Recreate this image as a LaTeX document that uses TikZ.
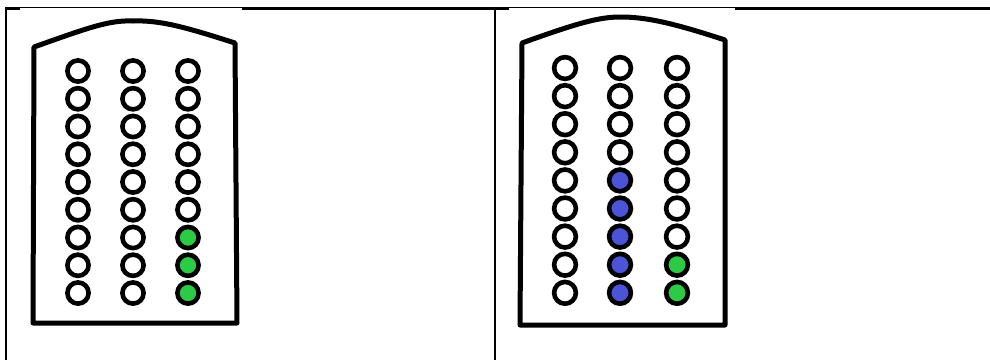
\documentclass[tikz,border=0pt]{standalone}
\definecolor{ledgreen}{HTML}{2BCB45}
\definecolor{ledblue}{HTML}{4B53D6}
\begin{document}
\begin{tikzpicture}[x=1pt,y=-1pt,
  housing/.style={line width=5pt, line join=round},
  led/.style={line width=4.6pt, draw=black, fill=white},
  ledG/.style={led, fill=ledgreen},
  ledB/.style={led, fill=ledblue},
  rulethick/.style={line width=2.2pt},
  rulethin/.style={line width=1pt}]
\useasboundingbox (0,0) rectangle (990,360);
% table rules
\draw[rulethick] (5,8.5) -- (20,8.5);
\draw[rulethin] (20,7.5) -- (242,7.5);
\draw[rulethick] (242,8.5) -- (509,8.5);
\draw[rulethin] (509,7.5) -- (735,7.5);
\draw[rulethick] (735,8.5) -- (990,8.5);
\draw[rulethick] (6,7.5) -- (6,360);
\draw[rulethick] (495,7.5) -- (495,360);
% left housing
\draw[housing] (33,323) -- (34,47) .. controls (90,27) and (110,20) .. (133,21)
  .. controls (160,20) and (185,27) .. (235,43) -- (237,323) -- cycle;
% right housing
\draw[housing] (520,325) -- (522,43) .. controls (575,24) and (598,17) .. (620,17)
  .. controls (645,17) and (670,22) .. (725,40) -- (725,325) -- cycle;
% left LEDs
\foreach \i in {0,...,8}{
  \draw[led] (78,{71+27.75*\i}) circle (10.6);
  \draw[led] (133,{71+27.75*\i}) circle (10.6);
}
\foreach \i in {0,...,5}{ \draw[led] (188,{71+27.75*\i}) circle (10.6); }
\foreach \i in {6,7,8}{ \draw[ledG] (188,{71+27.75*\i}) circle (10.6); }
% right LEDs
\foreach \i in {0,...,8}{ \draw[led] (565,{68+28.1*\i}) circle (10.9); }
\foreach \i in {0,...,3}{ \draw[led] (620,{68+28.1*\i}) circle (10.9); }
\foreach \i in {4,...,8}{ \draw[ledB] (620,{68+28.1*\i}) circle (10.9); }
\foreach \i in {0,...,6}{ \draw[led] (677,{68+28.1*\i}) circle (10.9); }
\foreach \i in {7,8}{ \draw[ledG] (677,{68+28.1*\i}) circle (10.9); }
\end{tikzpicture}
\end{document}
